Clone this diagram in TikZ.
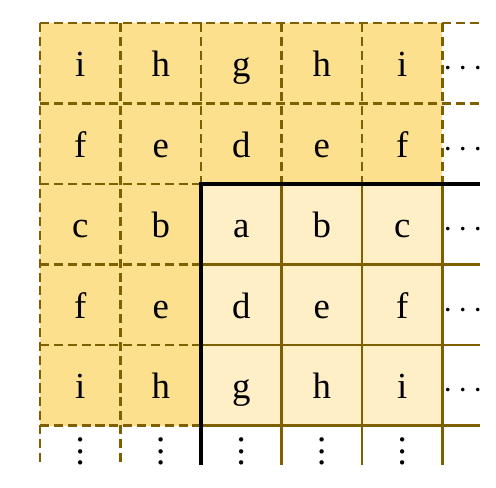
\documentclass[tikz,border=0pt]{standalone}
\usepackage{fontspec}
\setmainfont{Liberation Serif}
\definecolor{darkfill}{HTML}{FDE08E}
\definecolor{lightfill}{HTML}{FFEFC6}
\definecolor{gridbrown}{HTML}{7F6000}
\newcommand{\myvdots}{\vbox{\baselineskip4pt\lineskiplimit0pt\hbox{.}\hbox{.}\hbox{.}}}
\begin{document}
\begin{tikzpicture}[x=1cm,y=1cm,
  dashgrid/.style={draw=gridbrown, line width=0.8pt, dash pattern=on 3.2pt off 1.7pt},
  solidgrid/.style={draw=gridbrown, line width=0.8pt},
  cornerline/.style={draw=black, line width=1.1pt},
  letter/.style={anchor=base, font=\fontsize{13}{15}\selectfont, inner sep=0pt}]
\useasboundingbox (-0.497,-5.776) rectangle (5.665,0.286);
% fills
\fill[darkfill] (0,0) rectangle (5,-2);
\fill[darkfill] (0,-2) rectangle (2,-5);
\fill[lightfill] (2,-2) rectangle (5,-5);
% solid grid in light region
\foreach \y in {3,4,5} \draw[solidgrid] (2,-\y) -- (5.47,-\y);
\foreach \x in {3,4,5} \draw[solidgrid] (\x,-2) -- (\x,-5.49);
% dashed grid
\foreach \y in {0,1} \draw[dashgrid] (0,-\y) -- (5.47,-\y);
\foreach \y in {2,...,5} \draw[dashgrid] (0,-\y) -- (2,-\y);
\foreach \x in {0,1} \draw[dashgrid] (\x,0) -- (\x,-5.49);
\foreach \x in {2,...,5} \draw[dashgrid] (\x,0) -- (\x,-2);
% corner
\draw[cornerline] (2,-5.49) -- (2,-2) -- (5.47,-2);
% letters
\foreach \c/\l in {0/i,1/h,2/g,3/h,4/i} \node[letter] (ra\c) at (\c+0.5,-0.67) {\l};
\foreach \c/\l in {0/f,1/e,2/d,3/e,4/f} \node[letter] (rb\c) at (\c+0.5,-1.67) {\l};
\foreach \c/\l in {0/c,1/b,2/a,3/b,4/c} \node[letter] (rc\c) at (\c+0.5,-2.67) {\l};
\foreach \c/\l in {0/f,1/e,2/d,3/e,4/f} \node[letter] (rd\c) at (\c+0.5,-3.67) {\l};
\foreach \c/\l in {0/i,1/h,2/g,3/h,4/i} \node[letter] (re\c) at (\c+0.5,-4.67) {\l};
% dots
\foreach \r in {0,...,4} \node[letter] (hd\r) at (5.26,-\r-0.67) {$\cdots$};
\foreach \c in {0,...,4} \node[letter] (vd\c) at (\c+0.5,-5.485) {\myvdots};
\end{tikzpicture}
\end{document}
